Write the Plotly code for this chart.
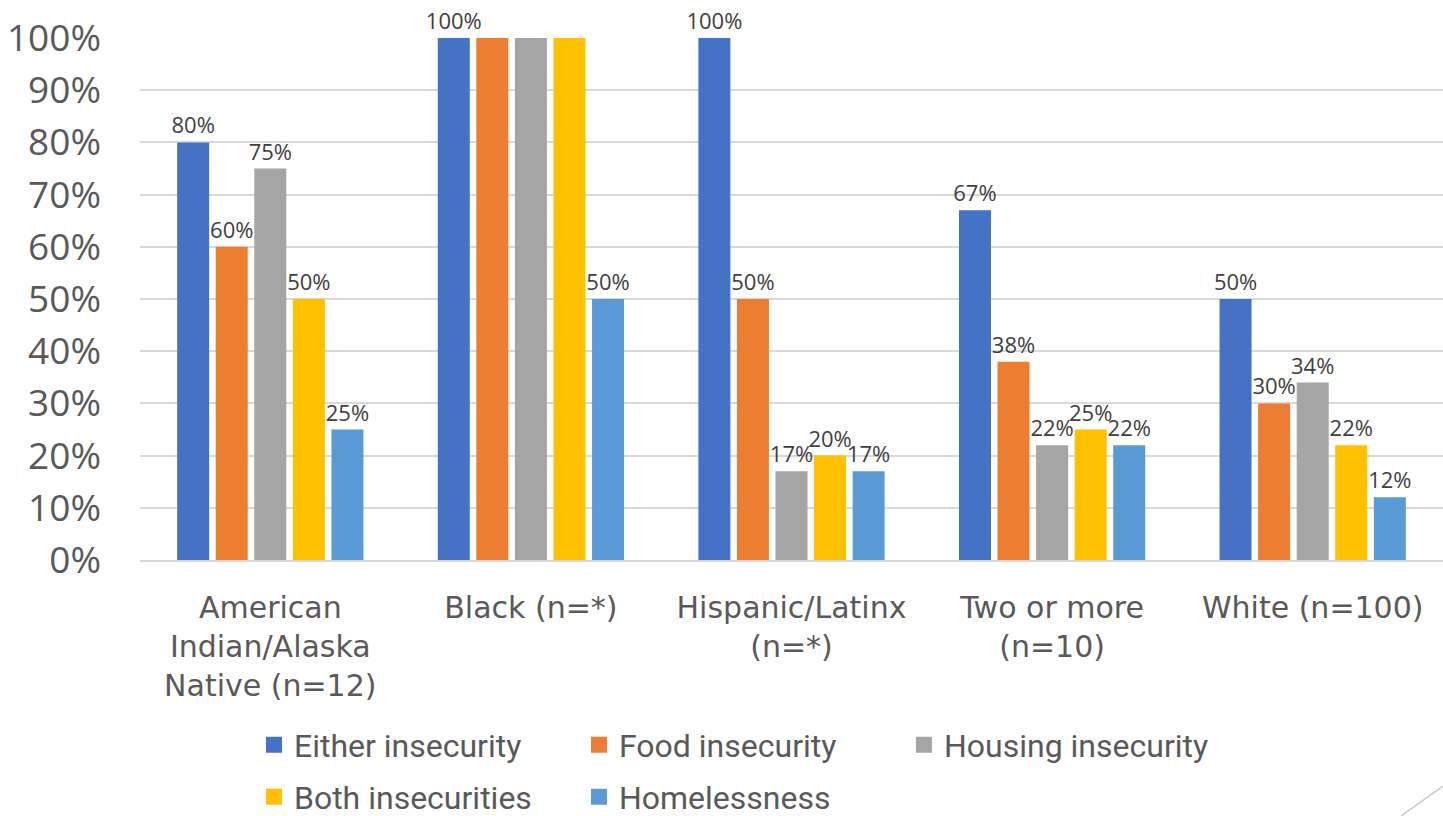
import plotly.graph_objects as go

categories = [
    "American<br>Indian/Alaska<br>Native (n=12)",
    "Black (n=*)",
    "Hispanic/Latinx<br>(n=*)",
    "Two or more<br>(n=10)",
    "White (n=100)",
]
series_names = [
    "Either insecurity",
    "Food insecurity",
    "Housing insecurity",
    "Both insecurities",
    "Homelessness",
]
either_insecurity = [0.80, 1.00, 1.00, 0.67, 0.50]
food_insecurity = [0.60, 1.00, 0.50, 0.38, 0.30]
housing_insecurity = [0.75, 1.00, 0.17, 0.22, 0.34]
both_insecurities = [0.50, 1.00, 0.20, 0.25, 0.22]
homelessness = [0.25, 0.50, 0.17, 0.22, 0.12]
# data labels hidden where they would collide above the full-height bars
label_shown = [
    [True, True, True, True, True],
    [True, False, True, True, True],
    [True, False, True, True, True],
    [True, False, True, True, True],
    [True, True, True, True, True],
]
colors = ["#4472C4", "#ED7D31", "#A5A5A5", "#FFC000", "#5B9BD5"]
# legend rows: first three entries on the top row, the rest below
legend_row = ["legend", "legend", "legend", "legend2", "legend2"]

values = [either_insecurity, food_insecurity, housing_insecurity,
          both_insecurities, homelessness]

fig = go.Figure()
for name, vals, shown, color, lg in zip(series_names, values, label_shown,
                                        colors, legend_row):
    fig.add_trace(go.Bar(
        x=categories, y=vals, name=name,
        marker=dict(color=color, line=dict(width=0)),
        text=[f"{v:.0%}" if s else "" for v, s in zip(vals, shown)],
        textposition="outside", constraintext="none",
        textfont=dict(family="Open Sans", size=22, color="#404040"),
        cliponaxis=False,
        showlegend=False,
    ))
    # square legend swatch
    fig.add_trace(go.Scatter(
        x=[None], y=[None], mode="markers", name=name,
        marker=dict(symbol="square", size=16, color=color),
        showlegend=True, legend=lg,
    ))

legend_style = dict(
    orientation="h", xref="container", yref="container",
    x=0.176, xanchor="left", yanchor="middle",
    entrywidth=280, entrywidthmode="pixels",
    font=dict(family="Roboto", size=32, color="#595959"),
    itemclick=False, itemdoubleclick=False,
)

fig.update_layout(
    width=1443, height=816,
    margin=dict(l=140, r=0, t=38, b=256),
    plot_bgcolor="white", paper_bgcolor="white",
    barmode="group", bargap=0.26, bargroupgap=0.17,
    legend=dict(legend_style, y=1 - 745 / 816),
    legend2=dict(legend_style, y=1 - 797 / 816),
    shapes=[dict(type="line", xref="paper", yref="paper",
                 x0=0.968, y0=-0.49, x1=1.0, y1=-0.433,
                 line=dict(color="#c8c8c8", width=1.5))],
)
fig.update_yaxes(
    range=[0, 1], dtick=0.1, tickformat=".0%",
    gridcolor="#d9d9d9", gridwidth=1.5, zeroline=False,
    showline=False, ticks="",
    tickfont=dict(family="Open Sans", size=37, color="#595959"),
    ticklabelstandoff=38,
)
fig.update_xaxes(
    showline=True, linecolor="#d9d9d9", linewidth=1.5,
    ticks="", tickfont=dict(family="DejaVu Sans", size=30, color="#595959"),
    ticklabelstandoff=20,
)

fig.write_html("out.html")
